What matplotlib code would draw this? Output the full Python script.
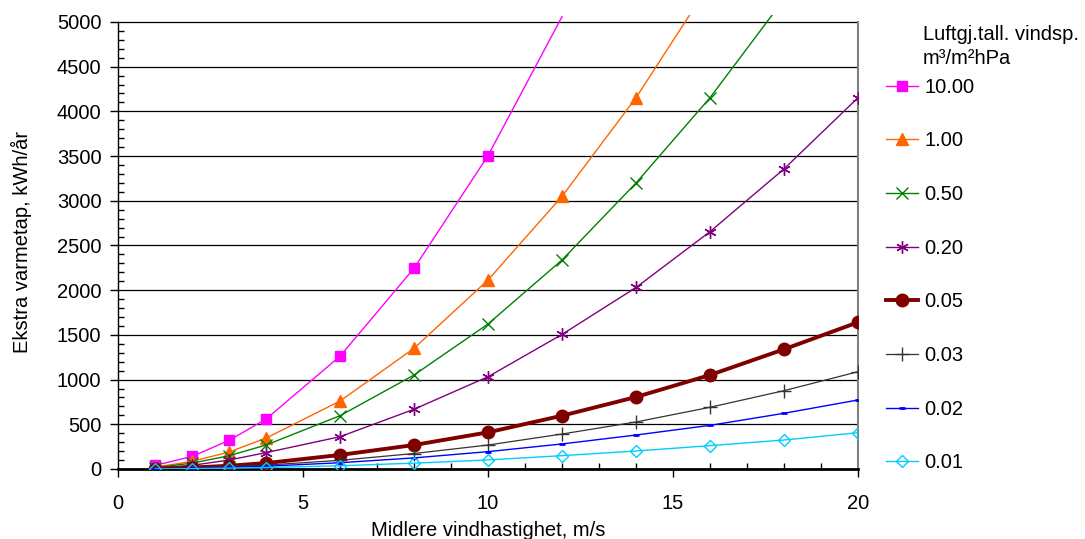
import matplotlib
matplotlib.use("Agg")
import matplotlib.pyplot as plt
from matplotlib.ticker import MultipleLocator

plt.rcParams['font.family'] = ['Liberation Sans', 'DejaVu Sans']
FS = 14.5

x_all = [1, 2, 3, 4, 6, 8, 10, 12, 14, 16, 18, 20]

labels = ["10.00", "1.00", "0.50", "0.20", "0.05", "0.03", "0.02", "0.01"]
legend_title = "Luftgj.tall. vindsp.\nm³/m²hPa"

s_10_00 = [40, 140, 320, 558, 1262, 2245, 3505, 5060]
s_1_00 = [21, 85, 190, 345, 760, 1350, 2114, 3050, 4153, 5430]
s_0_50 = [16, 65, 148, 268, 596, 1051, 1622, 2338, 3199, 4153, 5255]
s_0_20 = [10, 41, 100, 183, 361, 668, 1032, 1505, 2030, 2655, 3356, 4153]
s_0_05 = [4, 16, 36, 66, 157, 268, 410, 596, 805, 1051, 1339, 1641]
s_0_03 = [3, 11, 24, 43, 97, 173, 268, 391, 526, 690, 876, 1088]
s_0_02 = [2, 8, 17, 31, 70, 124, 194, 280, 380, 488, 623, 772]
s_0_01 = [1, 4, 9, 16, 36, 65, 101, 149, 201, 261, 324, 406]

series = [s_10_00, s_1_00, s_0_50, s_0_20, s_0_05, s_0_03, s_0_02, s_0_01]

YMAX = 5000

styles = [
    dict(color='#FF00FF', lw=1.0, marker='s', ms=7.5, mfc='#FF00FF', mec='#FF00FF'),
    dict(color='#FF6600', lw=1.0, marker='^', ms=8.5, mfc='#FF6600', mec='#FF6600'),
    dict(color='#008000', lw=1.0, marker='x', ms=8, mew=1.0),
    dict(color='#800080', lw=1.0, marker=(6, 2, 0), ms=9, mew=1.0),
    dict(color='#800000', lw=2.8, marker='o', ms=9, mfc='#800000', mec='#800000'),
    dict(color='#333333', lw=0.9, marker='+', ms=10, mew=1.0),
    dict(color='#0000FF', lw=1.0, marker='_', ms=5, mew=2.0),
    dict(color='#00CCFF', lw=1.0, marker='D', ms=6, mfc='none', mec='#00CCFF', mew=1.0),
]

fig = plt.figure(figsize=(10.85, 5.39), dpi=100)
ax = fig.add_axes([0.1088, 0.1299, 0.6820, 0.8426])

handles = []
for lab, ys, st in zip(labels, series, styles):
    xs = x_all[:len(ys)]
    shown = [i for i, v in enumerate(ys) if v <= YMAX]
    h, = ax.plot(xs, ys, label=lab, zorder=3, markevery=shown, **st)
    handles.append(h)

ax.set_xlim(0, 20)
ax.set_ylim(0, 5080)
ax.set_yticks(range(0, YMAX + 1, 500))
ax.yaxis.set_minor_locator(MultipleLocator(100))
ax.xaxis.set_major_locator(MultipleLocator(5))
ax.xaxis.set_minor_locator(MultipleLocator(1))

for y in range(500, YMAX + 1, 500):
    ax.axhline(y, color='black', lw=0.9, zorder=1)

ax.spines['top'].set_visible(False)
ax.spines['left'].set_bounds(0, YMAX)
ax.spines['right'].set_bounds(0, YMAX)
ax.spines['right'].set_color('#808080')
ax.spines['right'].set_linewidth(1.5)
ax.spines['left'].set_linewidth(1.0)
ax.spines['bottom'].set_linewidth(2.0)

ax.tick_params(axis='both', which='major', direction='out', length=6, width=1,
               labelsize=FS)
ax.tick_params(axis='y', which='major', pad=6)
ax.tick_params(axis='x', which='major', pad=12)
ax.tick_params(axis='both', which='minor', direction='in', length=4, width=1)

ax.set_xlabel("Midlere vindhastighet, m/s", fontsize=FS, labelpad=5.5)
ax.set_ylabel("Ekstra varmetap, kWh/år", fontsize=FS, labelpad=18)

fig.text(923 / 1085, 1 - 25.5 / 539, legend_title, fontsize=FS, ha='left',
         va='top', linespacing=1.29)

leg = fig.legend(handles=handles, labels=labels, loc='center left',
                 bbox_to_anchor=(886 / 1085, 1 - 275 / 539), frameon=False,
                 fontsize=FS, borderpad=0, borderaxespad=0,
                 labelspacing=1.72, handlelength=1.6, handletextpad=0.3)

fig.savefig("out.png", dpi=100)
